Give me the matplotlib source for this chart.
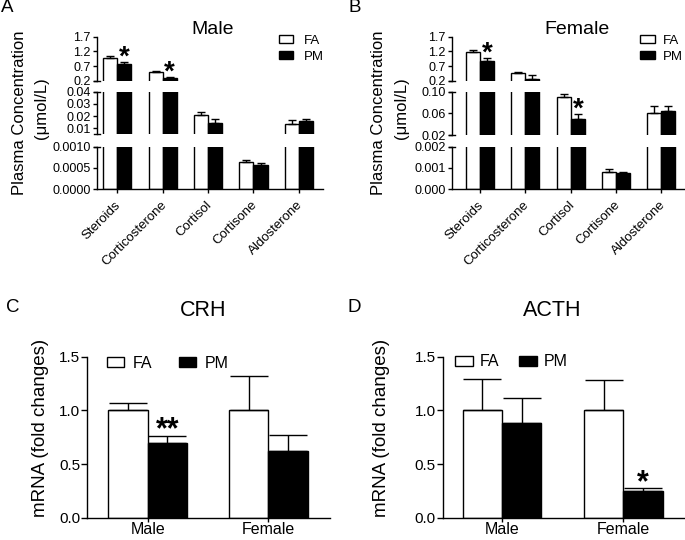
import numpy as np
import matplotlib
matplotlib.use('Agg')
import matplotlib.pyplot as plt
import matplotlib.transforms as mtransforms
from matplotlib.patches import Patch

plt.rcParams['font.family'] = ['Liberation Sans', 'DejaVu Sans']
plt.rcParams['axes.linewidth'] = 1.0

W, H = 685, 540

# plasma steroids (umol/L), mean and SEM
hormones = ['Steroids', 'Corticosterone', 'Cortisol', 'Cortisone', 'Aldosterone']

male_fa = [0.97, 0.49, 0.0209, 0.000634, 0.0135]
male_fa_sem = [0.06, 0.044, 0.0022, 0.000054, 0.0033]
male_pm = [0.77, 0.28, 0.0146, 0.000563, 0.016]
male_pm_sem = [0.07, 0.046, 0.0028, 0.000061, 0.0016]
male_sig = ['*', '*', '', '', '']

female_fa = [1.17, 0.473, 0.0897, 0.000826, 0.060]
female_fa_sem = [0.08, 0.034, 0.006, 0.000127, 0.0136]
female_pm = [0.88, 0.248, 0.0495, 0.00075, 0.0643]
female_pm_sem = [0.10, 0.146, 0.0085, 0.00005, 0.0098]
female_sig = ['*', '', '*', '', '']

# hypothalamic / pituitary mRNA (fold changes)
sexes = ['Male', 'Female']
crh_fa = [1.0, 1.0]
crh_fa_sem = [0.066, 0.323]
crh_pm = [0.70, 0.62]
crh_pm_sem = [0.065, 0.155]
crh_sig = ['**', '']

acth_fa = [1.0, 1.0]
acth_fa_sem = [0.29, 0.283]
acth_pm = [0.885, 0.246]
acth_pm_sem = [0.233, 0.028]
acth_sig = ['', '*']

# axis segments of the broken plots (top, middle, bottom)
male_limits = [(0.2, 1.7), (0.005, 0.04), (0.0, 0.001)]
male_ticks = [[0.2, 0.7, 1.2, 1.7], [0.01, 0.02, 0.03, 0.04], [0.0, 0.0005, 0.001]]
male_labels = [['0.2', '0.7', '1.2', '1.7'], ['0.01', '0.02', '0.03', '0.04'],
               ['0.0000', '0.0005', '0.0010']]
female_limits = [(0.2, 1.7), (0.02, 0.10), (0.0, 0.002)]
female_ticks = [[0.2, 0.7, 1.2, 1.7], [0.02, 0.06, 0.10], [0.0, 0.001, 0.002]]
female_labels = [['0.2', '0.7', '1.2', '1.7'], ['0.02', '0.06', '0.10'],
                 ['0.000', '0.001', '0.002']]


def px(x0, y0, x1, y1):
    return [x0 / W, 1 - y1 / H, (x1 - x0) / W, (y1 - y0) / H]


def draw_bars(ax, x, fa, fa_sem, pm, pm_sem, width, capsize):
    ax.bar(x - width / 2, fa, width, color='white', edgecolor='black', linewidth=1.0, zorder=2)
    ax.bar(x + width / 2, pm, width, color='black', edgecolor='black', linewidth=1.0, zorder=2)
    zeros = np.zeros(len(fa))
    ax.errorbar(x - width / 2, fa, yerr=[zeros, fa_sem], fmt='none', ecolor='black',
                elinewidth=1.0, capsize=capsize, capthick=1.0, zorder=3)
    ax.errorbar(x + width / 2, pm, yerr=[zeros, pm_sem], fmt='none', ecolor='black',
                elinewidth=1.0, capsize=capsize, capthick=1.0, zorder=3)


def broken_panel(fig, xr, rows, limits, ticks, labels, fa, fa_sem, pm, pm_sem, sig, xlim):
    x = np.arange(len(hormones))
    width = 0.31
    axes = []
    for i, (rw, lim, tk, lb) in enumerate(zip(rows, limits, ticks, labels)):
        ax = fig.add_axes(px(xr[0], rw[0], xr[1], rw[1]))
        draw_bars(ax, x, fa, fa_sem, pm, pm_sem, width, 3)
        ax.set_ylim(*lim)
        ax.set_xlim(*xlim)
        ax.set_yticks(tk)
        ax.set_yticklabels(lb, fontsize=9)
        for s in ['top', 'right']:
            ax.spines[s].set_visible(False)
        ax.tick_params(axis='y', length=3, width=1.0, pad=1.5)
        if i < 2:
            ax.spines['bottom'].set_visible(False)
            ax.set_xticks([])
        else:
            ax.set_xticks(x)
            ax.set_xticklabels(hormones, fontsize=9.5, rotation=45, ha='right',
                               va='center', rotation_mode='anchor')
            ax.tick_params(axis='x', length=3, width=1.0, pad=7)
            shift = mtransforms.ScaledTranslation(0.02, 0, fig.dpi_scale_trans)
            for t in ax.get_xticklabels():
                t.set_transform(t.get_transform() + shift)
        # break caps
        s = 3.0 / (xr[1] - xr[0])
        ends = [0] if i == 0 else ([0, 1] if i == 1 else [1])
        for e in ends:
            ax.plot([-s, s], [e, e], color='black', lw=1.0, transform=ax.transAxes,
                    clip_on=False)
        axes.append(ax)
    # significance marks on PM bars
    for j, mark in enumerate(sig):
        if not mark:
            continue
        top = pm[j] + pm_sem[j]
        for ax, lim in zip(axes, limits):
            if lim[0] <= top <= lim[1]:
                ax.annotate(mark, (x[j] + width / 2, top), xytext=(0, -6),
                            textcoords='offset points', ha='center', va='bottom',
                            fontsize=20, fontweight='bold', annotation_clip=False)
    return axes


def simple_panel(fig, rect, fa, fa_sem, pm, pm_sem, sig, xlim):
    x = np.arange(len(sexes))
    width = 0.325
    ax = fig.add_axes(px(*rect))
    draw_bars(ax, x, fa, fa_sem, pm, pm_sem, width, 14)
    ax.set_ylim(0, 1.5)
    ax.set_xlim(*xlim)
    ax.set_yticks([0.0, 0.5, 1.0, 1.5])
    ax.set_yticklabels(['0.0', '0.5', '1.0', '1.5'], fontsize=11)
    ax.set_xticks(x)
    ax.set_xticklabels(sexes, fontsize=11.5)
    for s in ['top', 'right']:
        ax.spines[s].set_visible(False)
    ax.tick_params(axis='y', length=4, width=1.0, pad=1)
    ax.tick_params(axis='x', length=3, width=1.0, pad=0)
    for j, mark in enumerate(sig):
        if mark:
            ax.annotate(mark, (x[j] + width / 2, pm[j] + pm_sem[j]), xytext=(0, -7),
                        textcoords='offset points', ha='center', va='bottom',
                        fontsize=22, fontweight='bold')
    return ax


fig = plt.figure(figsize=(W / 100, H / 100), dpi=100)

rows_a = [(36.7, 80.7), (91.7, 134.3), (146.7, 189.3)]
rows_b = [(36.7, 80.7), (91.7, 135.0), (146.7, 189.3)]
broken_panel(fig, (96.7, 323), rows_a, male_limits, male_ticks, male_labels,
             male_fa, male_fa_sem, male_pm, male_pm_sem, male_sig, (-0.45, 4.53))
broken_panel(fig, (452, 685), rows_b, female_limits, female_ticks, female_labels,
             female_fa, female_fa_sem, female_pm, female_pm_sem, female_sig, (-0.62, 4.52))

simple_panel(fig, (87.3, 356.7, 330, 517.7), crh_fa, crh_fa_sem, crh_pm, crh_pm_sem,
             crh_sig, (-0.5, 1.51))
simple_panel(fig, (442.7, 356.7, 685, 517.7), acth_fa, acth_fa_sem, acth_pm, acth_pm_sem,
             acth_sig, (-0.49, 1.51))

handles = [Patch(facecolor='white', edgecolor='black', linewidth=1.0),
           Patch(facecolor='black', edgecolor='black', linewidth=1.0)]


def fig_legend(xp, yp, fontsize, hl, hh, tp, ncol=1, cs=1.0, ls=0.3):
    fig.legend(handles, ['FA', 'PM'], loc='upper left', bbox_to_anchor=(xp / W, 1 - yp / H),
               frameon=False, borderpad=0, borderaxespad=0, fontsize=fontsize,
               handlelength=hl, handleheight=hh, handletextpad=tp, ncol=ncol,
               columnspacing=cs, labelspacing=ls)


fig_legend(279.3, 35, 9.5, 1.06, 0.53, 0.8)
fig_legend(640, 35, 9.5, 1.1, 0.53, 0.65)
fig_legend(107, 355.5, 11.5, 1.06, 0.56, 0.56, ncol=2, cs=1.66)
fig_legend(455, 354.5, 11.5, 1.12, 0.56, 0.4, ncol=2, cs=1.29)


def ftext(xp, yp, s, **kw):
    fig.text(xp / W, 1 - yp / H, s, ha='center', va='center', **kw)


ftext(7, 8, 'A', fontsize=13.5)
ftext(355, 8, 'B', fontsize=13.5)
ftext(13, 308, 'C', fontsize=13.5)
ftext(354.5, 308, 'D', fontsize=13.5)

ftext(212.5, 30, 'Male', fontsize=14)
ftext(577, 30, 'Female', fontsize=14)
ftext(203, 310, 'CRH', fontsize=15.5)
ftext(552.5, 310, 'ACTH', fontsize=15.5)

ftext(19.5, 113, 'Plasma Concentration', fontsize=12, rotation=90)
ftext(42, 108, '(\u03bcmol/L)', fontsize=12, rotation=90)
ftext(378.5, 113, 'Plasma Concentration', fontsize=12, rotation=90)
ftext(401.5, 108, '(\u03bcmol/L)', fontsize=12, rotation=90)
ftext(41, 428, 'mRNA (fold changes)', fontsize=13.5, rotation=90)
ftext(381, 428, 'mRNA (fold changes)', fontsize=13.5, rotation=90)

fig.savefig('out.png', dpi=100)
